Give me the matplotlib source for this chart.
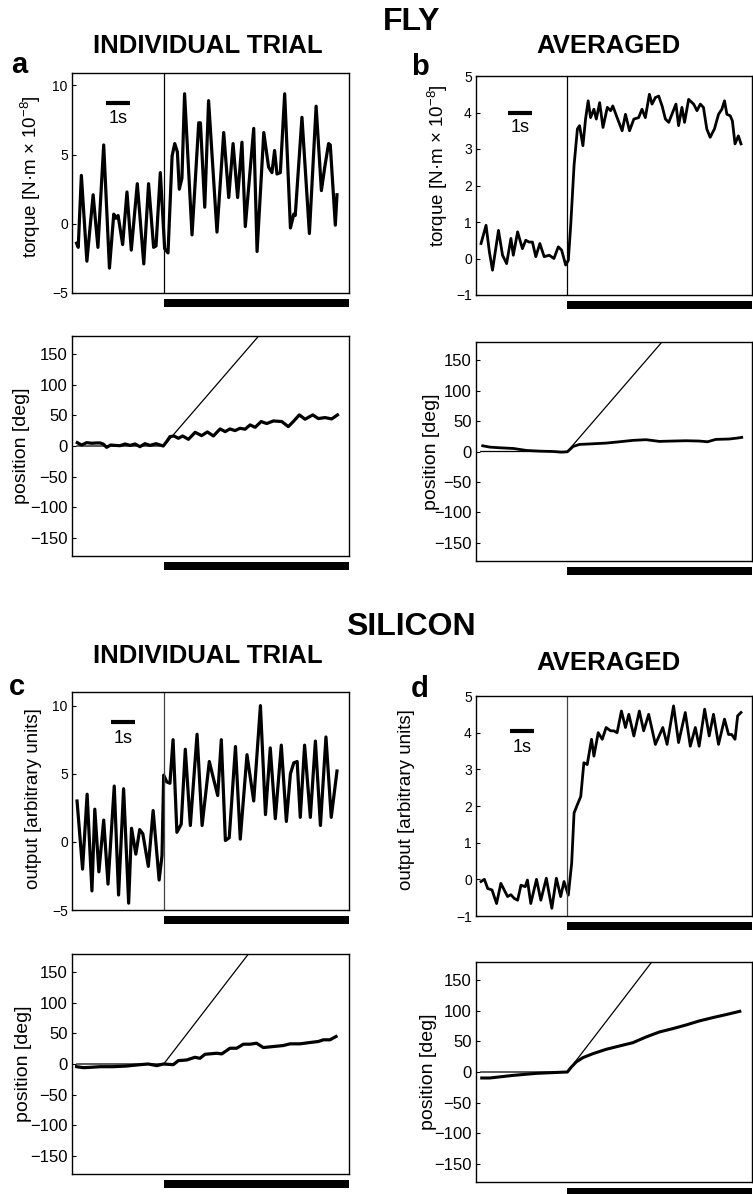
import matplotlib
matplotlib.use("Agg")
from matplotlib import pyplot as plt
from matplotlib import transforms
from matplotlib.patches import Rectangle
import numpy as np

plt.rcParams['font.family'] = ['Liberation Sans', 'DejaVu Sans']
plt.rcParams['mathtext.fontset'] = 'custom'
plt.rcParams['mathtext.rm'] = 'Liberation Sans'

# time axis in seconds, motion onset
onset = 3.82
t_max = 11.54

# --- fly, individual trial: torque
a_tor_t = [0.19, 0.26, 0.39, 0.62, 0.88, 1.08, 1.32, 1.56, 1.74, 1.83, 1.92, 2.11, 2.29, 2.47,
           2.72, 2.99, 3.19, 3.40, 3.50, 3.68, 3.86, 4.00, 4.17, 4.28, 4.39, 4.47, 4.58, 4.69,
           5.00, 5.28, 5.35, 5.53, 5.69, 6.04, 6.32, 6.53, 6.71, 6.90, 7.08, 7.22, 7.57, 7.71,
           7.99, 8.19, 8.33, 8.44, 8.54, 8.68, 8.86, 9.10, 9.24, 9.30, 9.58, 9.89, 10.17, 10.39,
           10.53, 10.69, 10.76, 10.97, 11.04]
a_tor_v = [-1.4, -1.7, 3.5, -2.7, 2.1, -1.7, 5.7, -3.2, 0.7, 0.4, 0.6, -1.5, 2.3, -1.9,
           2.9, -2.9, 2.9, -1.7, -1.6, 3.7, -1.8, -2.1, 4.9, 5.8, 5.2, 2.5, 3.3, 9.4,
           -0.8, 7.3, 7.3, 1.2, 8.9, -0.6, 6.6, 1.9, 5.8, 1.9, 5.9, -0.2, 6.9, -2.0,
           6.6, 4.1, 3.7, 5.3, 3.6, 3.7, 9.4, -0.3, 0.7, 0.6, 7.7, -0.7, 8.5, 2.4,
           4.1, 5.8, 5.7, -0.1, 2.1]

# --- fly, individual trial: position
a_pos_t = [0.22, 0.40, 0.61, 0.82, 1.03, 1.17, 1.31, 1.44, 1.61, 1.79, 2.00, 2.21, 2.42, 2.63,
           2.83, 3.04, 3.25, 3.50, 3.64, 3.80, 3.94, 4.08, 4.25, 4.43, 4.61, 4.85, 5.13, 5.40,
           5.64, 5.89, 6.17, 6.38, 6.58, 6.79, 7.00, 7.21, 7.42, 7.63, 7.88, 8.11, 8.39, 8.74,
           9.01, 9.22, 9.47, 9.71, 10.03, 10.26, 10.54, 10.82, 11.06]
a_pos_v = [5.5, 1.6, 5.5, 4.5, 5.0, 5.0, 3.0, -2.2, 1.6, 1.0, 0.5, 3.3, 1.0, 3.3,
           -1.1, 3.8, 1.0, 3.8, 2.0, 0.0, 7.1, 15.3, 16.4, 12.6, 16.4, 10.9, 22.4, 17.0,
           23.0, 16.4, 27.9, 23.5, 27.9, 25.2, 29.0, 27.5, 34.5, 30.6, 40.0, 36.7, 41.0, 40.0,
           31.7, 40.0, 50.9, 43.8, 50.9, 44.9, 46.5, 44.3, 50.9]

# --- fly, averaged: torque
b_tor_t = [0.21, 0.42, 0.56, 0.69, 0.94, 1.11, 1.28, 1.46, 1.56, 1.74, 1.94, 2.08, 2.22, 2.36,
           2.50, 2.67, 2.85, 3.06, 3.26, 3.44, 3.58, 3.75, 3.86, 3.96, 4.10, 4.24, 4.33, 4.47,
           4.58, 4.69, 4.79, 4.93, 5.03, 5.17, 5.31, 5.49, 5.63, 5.72, 5.90, 6.11, 6.25, 6.42,
           6.60, 6.80, 6.94, 7.08, 7.25, 7.36, 7.50, 7.64, 7.78, 7.92, 8.06, 8.19, 8.36, 8.47,
           8.61, 8.72, 8.89, 9.10, 9.24, 9.38, 9.51, 9.65, 9.79, 9.97, 10.14, 10.28, 10.39,
           10.49, 10.63, 10.72, 10.83, 10.97, 11.08]
b_tor_v = [0.41, 0.91, 0.18, -0.32, 0.77, 0.09, -0.14, 0.55, 0.09, 0.73, 0.27, 0.50, 0.45, 0.45,
           0.05, 0.41, 0.05, 0.09, 0.00, 0.32, 0.23, -0.18, -0.05, 0.91, 2.55, 3.55, 3.64, 3.09,
           3.82, 4.32, 3.86, 4.09, 3.82, 4.27, 3.59, 4.14, 4.05, 4.18, 3.86, 3.50, 3.95, 3.50,
           3.82, 3.86, 4.09, 3.86, 4.50, 4.23, 4.41, 4.45, 4.18, 3.82, 3.73, 3.95, 4.23, 3.64,
           4.14, 3.73, 4.36, 4.23, 4.05, 4.23, 4.14, 3.55, 3.32, 3.55, 3.95, 4.09, 4.32,
           3.95, 3.91, 3.77, 3.14, 3.36, 3.14]

# --- fly, averaged: position
b_pos_t = [0.28, 0.58, 1.00, 1.56, 2.11, 2.67, 3.22, 3.57, 3.82, 4.06, 4.33, 4.89, 5.44, 6.00,
           6.56, 7.11, 7.67, 8.22, 8.78, 9.33, 9.68, 10.03, 10.58, 10.93, 11.11]
b_pos_v = [9.4, 7.2, 6.1, 5.0, 1.7, 0.6, 0.0, -1.1, -0.5, 8.3, 11.6, 12.7, 13.8, 16.0,
           18.3, 19.4, 16.6, 17.2, 17.7, 17.2, 16.0, 19.9, 20.5, 22.1, 23.2]

# --- silicon, individual trial: output
c_tor_t = [0.21, 0.44, 0.63, 0.83, 0.95, 1.12, 1.32, 1.50, 1.76, 1.94, 2.15, 2.36, 2.48, 2.66,
           2.82, 2.95, 3.18, 3.38, 3.63, 3.75, 3.82, 3.95, 4.08, 4.21, 4.37, 4.55, 4.72, 4.93,
           5.21, 5.42, 5.72, 5.90, 6.07, 6.22, 6.39, 6.55, 6.81, 7.01, 7.29, 7.57, 7.85, 8.06,
           8.26, 8.47, 8.72, 8.93, 9.10, 9.24, 9.38, 9.51, 9.69, 9.93, 10.14, 10.35, 10.58,
           10.80, 11.04]
c_tor_v = [3.0, -2.0, 3.5, -3.6, 2.4, -2.2, 1.6, -3.1, 4.1, -3.9, 3.9, -4.5, 1.0, -0.9,
           0.9, 0.6, -1.8, 2.3, -2.8, -1.0, 4.9, 4.4, 4.3, 7.5, 0.7, 1.3, 6.8, 1.2,
           7.9, 1.2, 5.9, 4.6, 3.4, 7.5, 0.1, 0.3, 7.0, 0.2, 6.4, 3.0, 10.0, 2.0,
           6.9, 1.7, 7.1, 1.5, 5.0, 5.8, 5.9, 1.8, 7.1, 1.8, 7.4, 1.2, 7.7,
           1.8, 5.2]

# --- silicon, individual trial: position
c_pos_t = [0.19, 0.47, 0.75, 1.17, 1.72, 2.28, 2.83, 3.18, 3.53, 3.81, 4.22, 4.43, 4.78, 5.12,
           5.33, 5.54, 6.03, 6.24, 6.58, 6.86, 7.14, 7.42, 7.69, 7.97, 8.39, 8.80, 9.08, 9.50,
           9.92, 10.26, 10.47, 10.75, 11.00]
c_pos_v = [-4.4, -6.0, -5.5, -4.4, -4.4, -3.3, -1.1, 0.0, -2.7, 0.0, -1.1, 5.5, 6.6, 11.0,
           9.3, 15.9, 17.6, 16.5, 25.8, 25.8, 32.4, 32.4, 34.0, 26.9, 28.6, 30.2, 33.0, 33.0,
           35.2, 36.8, 39.6, 39.6, 45.0]

# --- silicon, averaged: output
d_tor_t = [0.21, 0.35, 0.49, 0.67, 0.86, 1.04, 1.18, 1.32, 1.46, 1.60, 1.74, 1.88, 2.06, 2.15,
           2.29, 2.53, 2.71, 2.94, 3.17, 3.36, 3.54, 3.68, 3.86, 4.00, 4.10, 4.24, 4.38, 4.51,
           4.65, 4.83, 4.93, 5.11, 5.28, 5.44, 5.63, 5.76, 5.90, 6.08, 6.25, 6.39, 6.60, 6.83,
           7.01, 7.22, 7.50, 7.81, 7.99, 8.26, 8.47, 8.75, 8.96, 9.17, 9.33, 9.56, 9.75, 9.93,
           10.14, 10.39, 10.56, 10.69, 10.83, 10.94, 11.08]
d_tor_v = [-0.06, 0.00, -0.25, -0.29, -0.66, -0.11, -0.29, -0.47, -0.42, -0.52, -0.57, -0.16, -0.20, -0.02,
           -0.66, 0.00, -0.57, 0.03, -0.79, 0.03, -0.47, -0.06, -0.43, 0.44, 1.81, 2.04, 2.26, 3.18,
           3.13, 3.82, 3.36, 4.00, 3.82, 4.14, 4.05, 4.05, 4.00, 4.59, 4.14, 4.50, 3.91, 4.59,
           4.05, 4.50, 3.68, 4.14, 3.68, 4.73, 3.73, 4.55, 3.63, 4.14, 3.63, 4.64, 3.91, 4.50,
           3.68, 4.37, 3.95, 3.95, 3.82, 4.46, 4.55]

# --- silicon, averaged: position
d_pos_t = [0.24, 0.58, 1.56, 2.53, 3.50, 3.82, 3.99, 4.19, 4.47, 4.89, 5.44, 6.00, 6.56, 7.11,
           7.67, 8.22, 8.78, 9.33, 9.89, 10.44, 11.03]
d_pos_v = [-9.8, -9.8, -5.5, -2.2, -0.5, 0.0, 8.2, 16.4, 23.5, 30.0, 37.1, 42.6, 48.0, 57.3,
           65.5, 70.9, 76.9, 83.5, 88.9, 93.8, 99.3]

# stimulus (pattern) position: still until onset, then constant rotation
fly_stim_t = [0.2, onset, 11.1]
fly_stim_v = [0.0, 0.0, 45.5 * (11.1 - onset)]
sil_stim_t = [0.2, onset, 11.1]
sil_stim_v = [0.0, 0.0, 51.0 * (11.1 - onset)]

W, H = 753, 1194
fig = plt.figure(figsize=(W / 100, H / 100), dpi=100)


def add_axes(x0, y0, x1, y1):
    # pixel box -> figure fraction
    return fig.add_axes([x0 / W, 1 - y1 / H, (x1 - x0) / W, (y1 - y0) / H])


def style(ax, tick_size):
    ax.set_xlim(0, t_max)
    ax.set_xticks([])
    ax.tick_params(axis='y', direction='in', length=3, width=0.8, labelsize=tick_size, pad=3)
    for s in ax.spines.values():
        s.set_linewidth(1.0)
    # black bar marking the motion period
    tr = transforms.blended_transform_factory(ax.transData, ax.transAxes)
    ax.add_patch(Rectangle((onset, -0.062), t_max - onset, 0.034, transform=tr,
                           color='black', clip_on=False, lw=0))


def torque_panel(ax, t, v, ylim, yticks, label, lab_x, lab_y, bar_x, bar_y, txt_y, vcol, lw):
    ax.plot(t, v, color='black', lw=lw, solid_joinstyle='round')
    ax.axvline(onset, color=vcol, lw=0.9)
    ax.set_ylim(*ylim)
    ax.set_yticks(yticks)
    style(ax, 10)
    ax.set_ylabel(label, fontsize=13.5)
    ax.yaxis.set_label_coords(lab_x, lab_y)
    # 1 s scale bar
    ax.plot([bar_x, bar_x + 1.0], [bar_y, bar_y], color='black', lw=3, solid_capstyle='butt')
    ax.text(bar_x + 0.5, txt_y, '1s', ha='center', va='center', fontsize=13)


def position_panel(ax, t, v, st, sv, lab_x, lw):
    ax.plot(st, sv, color='black', lw=0.9)
    ax.plot(t, v, color='black', lw=lw, solid_joinstyle='round')
    ax.set_ylim(-180, 180)
    ax.set_yticks([-150, -100, -50, 0, 50, 100, 150])
    ax.set_yticklabels(['\u2212150', '\u2212100', '\u221250', '0', '50', '100', '150'])
    style(ax, 12)
    ax.set_ylabel('position [deg]', fontsize=14)
    ax.yaxis.set_label_coords(lab_x, 0.5)


torque_lab = 'torque [N\u00b7m \u00d7 $\\mathregular{10^{-8}}$]'
output_lab = 'output [arbitrary units]'

ax_a1 = add_axes(72, 73, 349, 293)
torque_panel(ax_a1, a_tor_t, a_tor_v, (-5, 10.9), [-5, 0, 5, 10], torque_lab,
             -0.105, 0.53, 1.42, 8.7, 7.6, 'black', 2.3)
ax_a1.set_yticklabels(['\u22125', '0', '5', '10'])
ax_a2 = add_axes(72, 336, 349, 556)
position_panel(ax_a2, a_pos_t, a_pos_v, fly_stim_t, fly_stim_v, -0.152, 2.3)

ax_b1 = add_axes(476, 76, 752, 295)
torque_panel(ax_b1, b_tor_t, b_tor_v, (-1, 5), [-1, 0, 1, 2, 3, 4, 5], torque_lab,
             -0.094, 0.59, 1.35, 4.0, 3.6, 'black', 2.0)
ax_b1.set_yticklabels(['\u22121', '0', '1', '2', '3', '4', '5'])
ax_b2 = add_axes(476, 342, 752, 561)
position_panel(ax_b2, b_pos_t, b_pos_v, fly_stim_t, fly_stim_v, -0.13, 2.0)

ax_c1 = add_axes(72, 692, 349, 910)
torque_panel(ax_c1, c_tor_t, c_tor_v, (-5, 11.0), [-5, 0, 5, 10], output_lab,
             -0.108, 0.51, 1.63, 8.8, 7.6, '#444444', 2.3)
ax_c1.set_yticklabels(['\u22125', '0', '5', '10'])
ax_c2 = add_axes(72, 954, 349, 1174)
position_panel(ax_c2, c_pos_t, c_pos_v, sil_stim_t, sil_stim_v, -0.144, 2.3)

ax_d1 = add_axes(476, 696, 752, 916)
torque_panel(ax_d1, d_tor_t, d_tor_v, (-1, 5), [-1, 0, 1, 2, 3, 4, 5], output_lab,
             -0.22, 0.53, 1.42, 4.05, 3.6, '#444444', 2.0)
ax_d1.set_yticklabels(['\u22121', '0', '1', '2', '3', '4', '5'])
ax_d2 = add_axes(476, 962, 752, 1182)
position_panel(ax_d2, d_pos_t, d_pos_v, sil_stim_t, sil_stim_v, -0.14, 2.2)


def ftext(x, y, s, size, ha='center'):
    fig.text(x / W, 1 - y / H, s, ha=ha, va='baseline', fontsize=size, fontweight='bold')


ftext(412, 30, 'FLY', 23)
ftext(208, 53, 'INDIVIDUAL TRIAL', 18.5)
ftext(608, 53, 'AVERAGED', 18.5)
ftext(19, 73, 'a', 21)
ftext(420, 75, 'b', 21)

ftext(411, 635, 'SILICON', 23)
ftext(208, 663, 'INDIVIDUAL TRIAL', 18.5)
ftext(608, 670, 'AVERAGED', 18.5)
ftext(17, 695, 'c', 21)
ftext(420, 697, 'd', 21)

fig.savefig('out.png', dpi=100)
